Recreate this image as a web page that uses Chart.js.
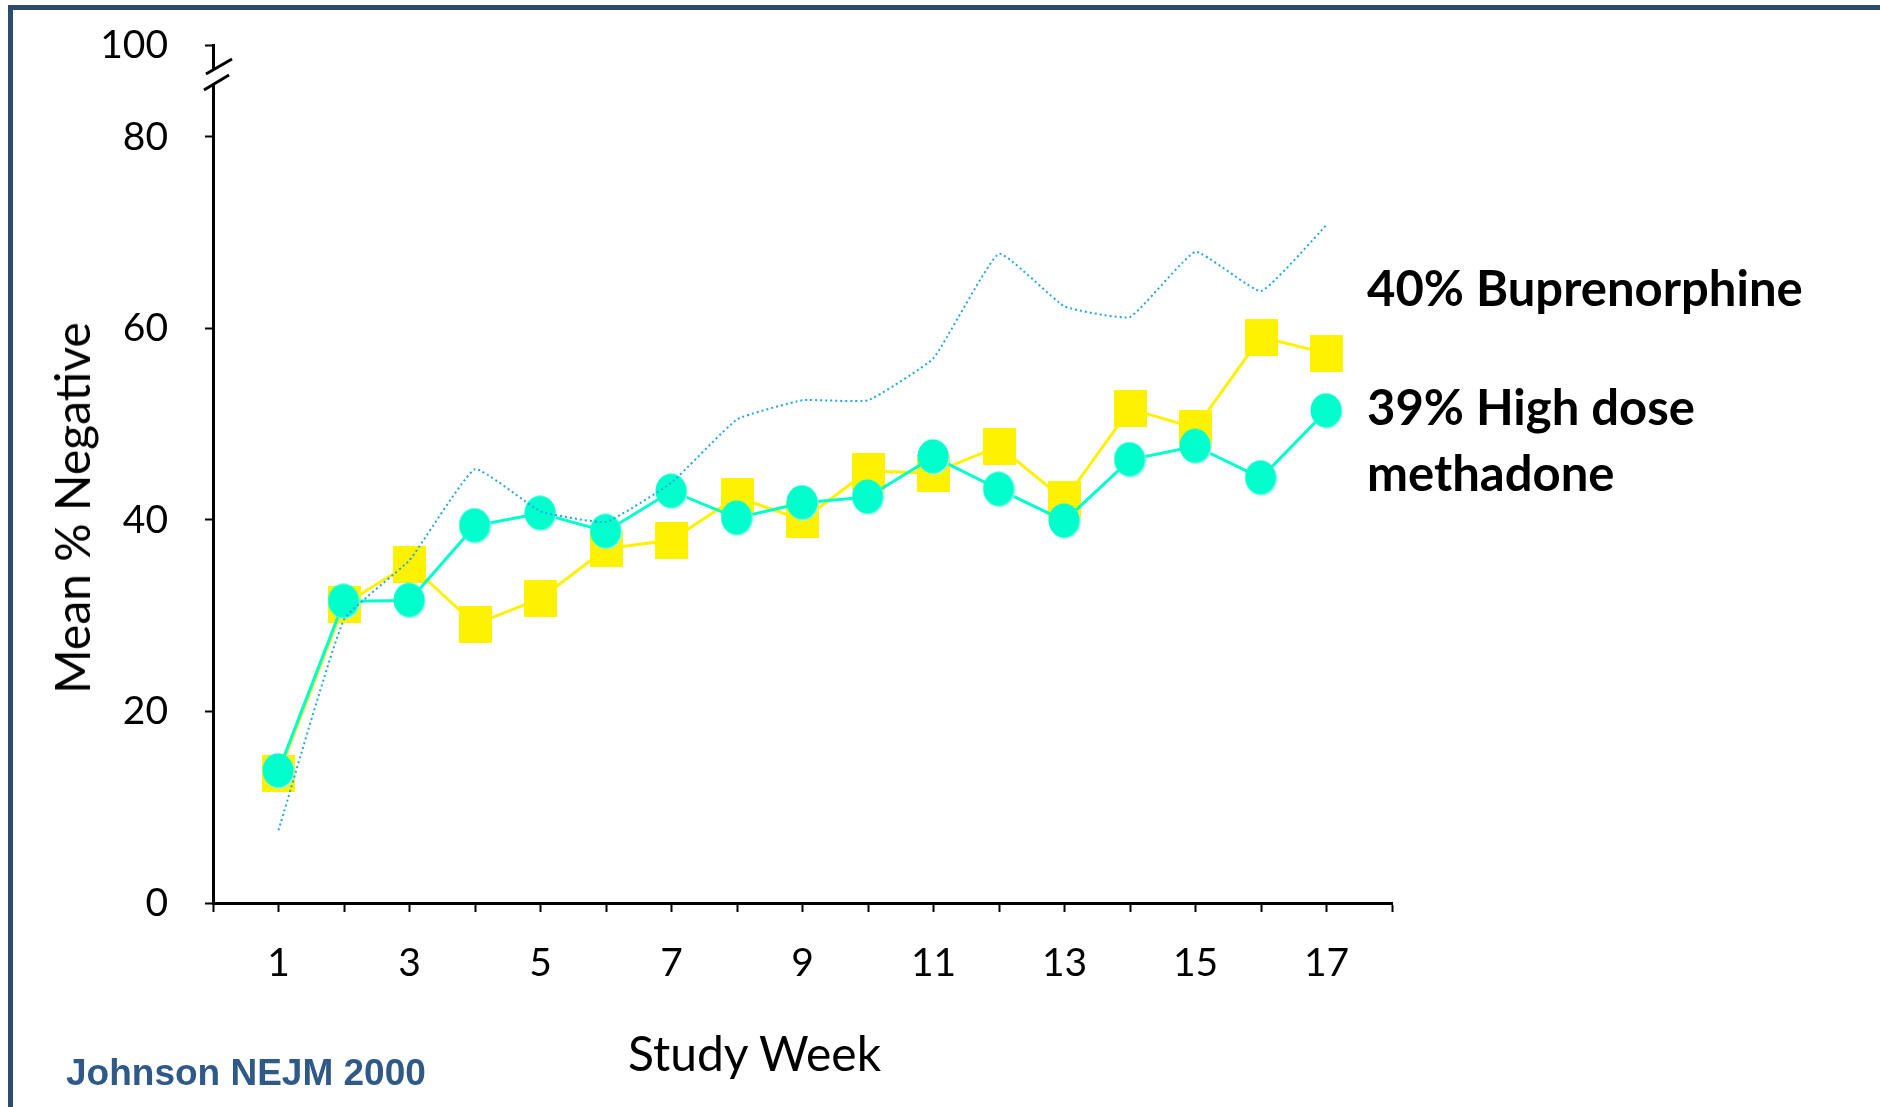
<!DOCTYPE html>
<html>
<head>
<meta charset="utf-8">
<script src="https://cdn.jsdelivr.net/npm/chart.js@4.4.1/dist/chart.umd.min.js"></script>
<style>
  html, body { margin: 0; padding: 0; background: #fff; overflow: hidden; }
  #wrap { position: relative; width: 1880px; height: 1107px; overflow: hidden; background: #fff; }
  #frame { position: absolute; left: 8px; top: 5px; width: 1900px; height: 1200px;
           border-top: 5px solid #2b4c70; border-left: 5px solid #2b4c70; box-sizing: border-box; }
  #chart { position: absolute; left: 0; top: 0; }
  .txt { position: absolute; white-space: nowrap; line-height: 1; font-family: Lato, "Open Sans", sans-serif; color: #000; }
  .legend { font-weight: bold; font-size: 49px; }
  #yTitle { font-size: 48px; transform: translate(-50%, -50%) rotate(-90deg); }
  #xTitle { font-size: 48px; }
  #cite { font-family: "Liberation Sans", Arial, sans-serif; font-weight: bold; font-size: 37px; color: #2f5a88; }
</style>
</head>
<body>
<div id="wrap">
  <div id="frame"></div>
  <canvas id="chart" width="1880" height="1107"></canvas>
  <div class="txt" id="yTitle" style="left:72px; top:508px;">Mean % Negative</div>
  <div class="txt" id="xTitle" style="left:628px; top:1029px;">Study Week</div>
  <div class="txt legend" style="left:1367px; top:263px;">40% Buprenorphine</div>
  <div class="txt legend" style="left:1367px; top:382px;">39% High dose</div>
  <div class="txt legend" style="left:1367px; top:448px;">methadone</div>
  <div class="txt" id="cite" style="left:66px; top:1054px;">Johnson NEJM 2000</div>
</div>
<script>
// Weekly mean percentage of negative urine samples, by treatment arm
const weeks = [1, 2, 3, 4, 5, 6, 7, 8, 9, 10, 11, 12, 13, 14, 15, 16, 17];
const buprenorphinePct = [13.5, 31.2, 35.4, 29.1, 31.8, 37.0, 37.9, 42.4, 40.0, 45.1, 44.9, 47.7, 42.1, 51.6, 49.6, 59.1, 57.4];
const methadoneHighPct = [13.8, 31.5, 31.6, 39.4, 40.7, 38.8, 43.0, 40.2, 41.8, 42.4, 46.6, 43.2, 39.9, 46.3, 47.7, 44.4, 51.4];
const comparisonArmPct = [7.6, 29.6, 35.8, 45.3, 40.9, 39.8, 43.9, 50.5, 52.5, 52.5, 56.9, 67.8, 62.3, 61.2, 68.0, 63.9, 70.8];

// Axis ticks
const yTickValues = [0, 20, 40, 60, 80];
const yBreakLabel = '100';          // label of the top tick, above the axis break
const xTickLabels = ['1', '3', '5', '7', '9', '11', '13', '15', '17'];

const xRange = [0, 18];
const yAxisTop = 89.6;              // visual height of the broken axis segment

function toPoints(values) {
  return weeks.map((w, i) => ({ x: w, y: values[i] }));
}

// Marker sprites: tall yellow rectangles and teal ellipses
function rectSprite(w, h, color) {
  const c = document.createElement('canvas');
  c.width = w; c.height = h;
  const g = c.getContext('2d');
  g.fillStyle = color;
  g.fillRect(0, 0, w, h);
  return c;
}
function ellipseSprite(w, h, color, rim) {
  const c = document.createElement('canvas');
  c.width = w + 2; c.height = h + 2;
  const g = c.getContext('2d');
  g.fillStyle = rim;
  g.beginPath();
  g.ellipse(w / 2 + 1.6, h / 2 + 1.8, w / 2, h / 2, 0, 0, Math.PI * 2);
  g.fill();
  g.fillStyle = color;
  g.beginPath();
  g.ellipse(w / 2 + 0.5, h / 2 + 0.5, w / 2, h / 2, 0, 0, Math.PI * 2);
  g.fill();
  return c;
}

const yellow = '#fff200';
const teal = '#00ffcc';
const squareImg = rectSprite(33, 37, yellow);
const circleImg = ellipseSprite(31, 34, teal, '#9dffe9');

// Broken y axis: gap with two slashes just below the top tick
const axisBreak = {
  id: 'axisBreak',
  afterDraw(chart) {
    const ys = chart.scales.y;
    const x = ys.right;
    const top = ys.top;
    const ctx = chart.ctx;
    ctx.save();
    ctx.fillStyle = '#fff';
    ctx.fillRect(x - 4, top + 25, 8, 15);
    ctx.strokeStyle = '#000';
    ctx.lineWidth = 3;
    ctx.beginPath();
    ctx.moveTo(x - 7, top + 29); ctx.lineTo(x + 19, top + 14);
    ctx.moveTo(x - 9, top + 45); ctx.lineTo(x + 16, top + 30);
    ctx.stroke();
    ctx.restore();
  }
};

const tickFont = { family: 'Lato, "Open Sans", sans-serif', size: 39 };

new Chart(document.getElementById('chart'), {
  type: 'line',
  data: {
    datasets: [
      {
        label: 'Comparison arm',
        data: toPoints(comparisonArmPct),
        borderColor: 'rgba(25, 160, 225, 0.95)',
        borderWidth: 2,
        borderDash: [2, 3],
        tension: 0.12,
        pointRadius: 0,
        order: 0
      },
      {
        label: '39% High dose methadone',
        data: toPoints(methadoneHighPct),
        borderColor: teal,
        borderWidth: 3,
        pointStyle: circleImg,
        pointRadius: 17,
        order: 1
      },
      {
        label: '40% Buprenorphine',
        data: toPoints(buprenorphinePct),
        borderColor: yellow,
        borderWidth: 3,
        pointStyle: squareImg,
        pointRadius: 18,
        order: 2
      }
    ]
  },
  options: {
    responsive: false,
    animation: false,
    devicePixelRatio: 1,
    layout: { autoPadding: false, padding: { left: 0, top: 45, right: 488, bottom: 104 } },
    plugins: { legend: { display: false }, tooltip: { enabled: false } },
    scales: {
      x: {
        type: 'linear',
        min: xRange[0],
        max: xRange[1],
        afterFit(scale) {
          scale.height = 100;
          scale.paddingLeft = 0; scale.paddingRight = 0;
          scale.paddingTop = 0; scale.paddingBottom = 0;
        },
        afterBuildTicks(scale) {
          const t = [];
          for (let v = xRange[0]; v <= xRange[1]; v++) t.push({ value: v });
          scale.ticks = t;
        },
        ticks: {
          autoSkip: false,
          maxRotation: 0,
          padding: 28,
          color: '#000',
          font: tickFont,
          callback: (v) => (xTickLabels.includes(String(v)) ? String(v) : '')
        },
        grid: { drawOnChartArea: false, drawTicks: true, tickLength: 9, tickWidth: 2, tickColor: '#000' },
        border: { display: true, color: '#000', width: 3 }
      },
      y: {
        type: 'linear',
        min: 0,
        max: yAxisTop,
        afterFit(scale) {
          scale.width = 213;
          scale.paddingLeft = 0; scale.paddingRight = 0;
          scale.paddingTop = 0; scale.paddingBottom = 0;
        },
        afterBuildTicks(scale) {
          scale.ticks = yTickValues.concat([yAxisTop]).map((v) => ({ value: v }));
        },
        ticks: {
          padding: 37,
          color: '#000',
          font: tickFont,
          callback: (v) => (v === yAxisTop ? yBreakLabel : String(v))
        },
        grid: { drawOnChartArea: false, drawTicks: true, tickLength: 8, tickWidth: 2, tickColor: '#000' },
        border: { display: true, color: '#000', width: 3 }
      }
    }
  },
  plugins: [axisBreak]
});
</script>
</body>
</html>
